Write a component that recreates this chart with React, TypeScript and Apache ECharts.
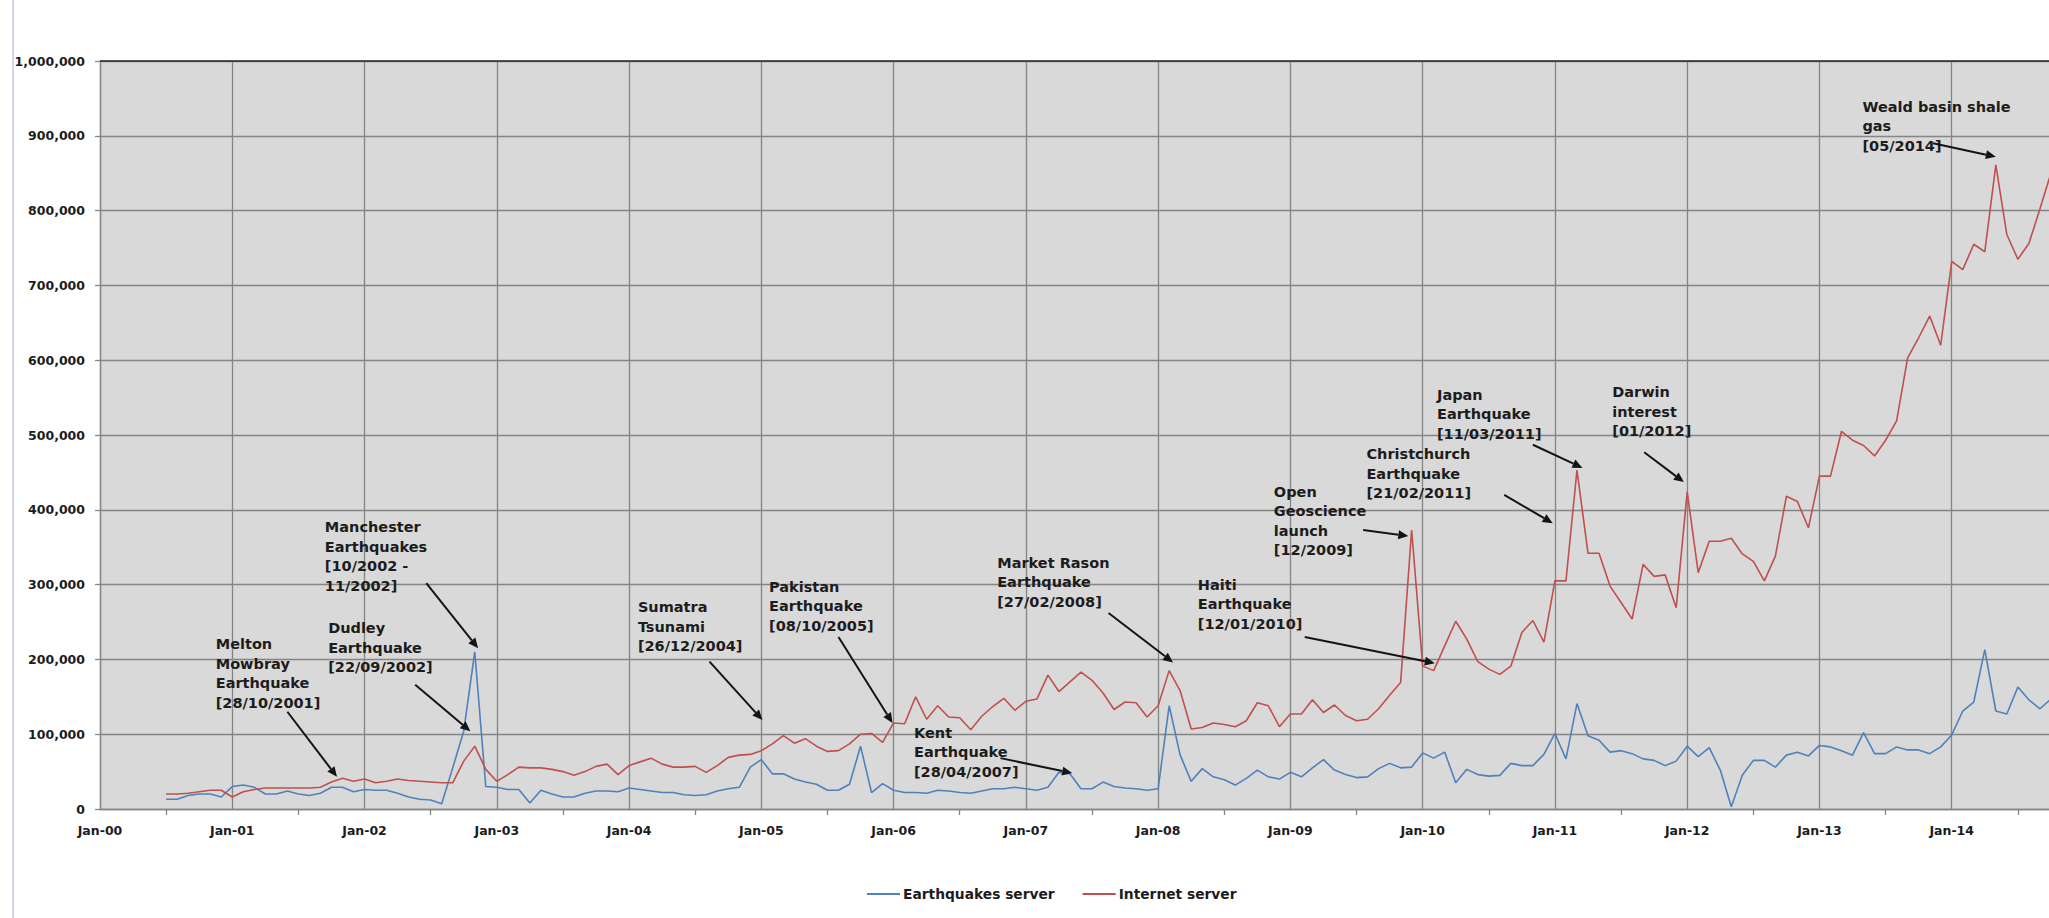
import React, { useEffect, useRef } from "react";
import * as echarts from "echarts";

// ---- categories: one per month, Jan-00 .. Jan-15 ----
const MONTH_NAMES = ["Jan", "Feb", "Mar", "Apr", "May", "Jun", "Jul", "Aug", "Sep", "Oct", "Nov", "Dec"];
const YEARS = [2000, 2001, 2002, 2003, 2004, 2005, 2006, 2007, 2008, 2009, 2010, 2011, 2012, 2013, 2014];
const AXIS_END = "Jan-15";
const CATEGORIES: string[] = [
  ...YEARS.flatMap((y) => MONTH_NAMES.map((m) => `${m}-${String(y % 100).padStart(2, "0")}`)),
  AXIS_END,
];

// both series start in Jul-00
const FIRST_MONTH = "Jul-00";

// monthly page requests, Jul-00 .. Oct-14
const EARTHQUAKES_SERVER = [
  13000, 13000, 18000, 20000, 20000, 16000,
  30000, 32000, 29000, 20000, 20000, 24000, 20000, 18000, 21000, 29000, 29000, 23000,
  26000, 25000, 25000, 21000, 16000, 13000, 12000, 7000, 55000, 104000, 210000, 30000,
  29000, 26000, 26000, 8000, 25000, 20000, 16000, 16000, 21000, 24000, 24000, 23000,
  28000, 26000, 24000, 22000, 22000, 19000, 18000, 19000, 24000, 27000, 29000, 56000,
  66000, 47000, 47000, 40000, 36000, 33000, 25000, 25000, 33000, 84000, 22000, 34000,
  25000, 22000, 22000, 21000, 25000, 24000, 22000, 21000, 24000, 27000, 27000, 29000,
  27000, 25000, 29000, 49000, 47000, 27000, 27000, 36000, 30000, 28000, 27000, 25000,
  27000, 138000, 72000, 37000, 54000, 43000, 39000, 32000, 41000, 52000, 43000, 40000,
  49000, 43000, 55000, 66000, 52000, 46000, 42000, 43000, 54000, 61000, 55000, 56000,
  75000, 68000, 76000, 35000, 53000, 46000, 44000, 45000, 61000, 58000, 58000, 73000,
  101000, 67000, 141000, 98000, 92000, 76000, 78000, 74000, 67000, 65000, 58000, 64000,
  84000, 70000, 82000, 52000, 3000, 45000, 65000, 65000, 56000, 72000, 76000, 71000,
  85000, 83000, 78000, 72000, 102000, 74000, 74000, 83000, 79000, 79000, 74000, 83000,
  99000, 131000, 143000, 213000, 131000, 127000, 163000, 146000, 134000, 147000,
];

const INTERNET_SERVER = [
  20000, 20000, 21000, 23000, 25000, 25000,
  16000, 23000, 26000, 28000, 28000, 28000, 28000, 28000, 29000, 36000, 41000, 37000,
  40000, 35000, 37000, 40000, 38000, 37000, 36000, 35000, 35000, 64000, 84000, 53000,
  37000, 46000, 56000, 55000, 55000, 53000, 50000, 45000, 50000, 57000, 60000, 46000,
  58000, 63000, 68000, 60000, 56000, 56000, 57000, 49000, 58000, 69000, 72000, 73000,
  78000, 87000, 98000, 88000, 94000, 84000, 77000, 78000, 87000, 100000, 101000, 89000,
  115000, 114000, 150000, 120000, 138000, 123000, 122000, 106000, 124000, 137000, 148000, 132000,
  144000, 147000, 179000, 157000, 170000, 183000, 172000, 155000, 133000, 143000, 142000, 123000,
  138000, 185000, 158000, 107000, 109000, 115000, 113000, 110000, 118000, 142000, 138000, 110000,
  127000, 127000, 146000, 129000, 139000, 125000, 118000, 120000, 134000, 152000, 169000, 373000,
  191000, 185000, 218000, 251000, 227000, 197000, 187000, 180000, 191000, 236000, 252000, 223000,
  305000, 305000, 453000, 342000, 342000, 298000, 276000, 254000, 327000, 311000, 313000, 269000,
  424000, 316000, 358000, 358000, 362000, 341000, 331000, 305000, 338000, 418000, 411000, 376000,
  445000, 445000, 505000, 493000, 486000, 472000, 493000, 519000, 603000, 630000, 659000, 620000,
  732000, 721000, 755000, 745000, 861000, 768000, 735000, 756000, 802000, 850000,
];

const SERIES_NAMES = ["Earthquakes server", "Internet server"];
const SERIES_COLORS = ["#4F81BD", "#C0504D"];

// event call-outs: text block top-left, arrow tail and arrow tip, as [month index, value]
type Note = { lines: string[]; at: [number, number]; from: [number, number]; to: [number, number] };
const NOTES: Note[] = [
  { lines: ["Melton", "Mowbray", "Earthquake", "[28/10/2001]"], at: [10.5, 233000], from: [17.0, 130000], to: [21.5, 43000] },
  { lines: ["Dudley", "Earthquake", "[22/09/2002]"], at: [20.7, 255000], from: [28.6, 166000], to: [33.6, 104000] },
  { lines: ["Manchester", "Earthquakes", "[10/2002 -", "11/2002]"], at: [20.4, 390000], from: [29.6, 302000], to: [34.3, 215000] },
  { lines: ["Sumatra", "Tsunami", "[26/12/2004]"], at: [48.8, 283000], from: [55.3, 197000], to: [60.1, 119000] },
  { lines: ["Pakistan", "Earthquake", "[08/10/2005]"], at: [60.7, 310000], from: [67.0, 230000], to: [71.9, 115000] },
  { lines: ["Kent", "Earthquake", "[28/04/2007]"], at: [73.85, 115000], from: [81.7, 68000], to: [88.2, 48000] },
  { lines: ["Market Rason", "Earthquake", "[27/02/2008]"], at: [81.4, 342000], from: [91.5, 262000], to: [97.35, 196000] },
  { lines: ["Haiti", "Earthquake", "[12/01/2010]"], at: [99.6, 313000], from: [109.3, 230000], to: [121.1, 195000] },
  { lines: ["Open", "Geoscience", "launch", "[12/2009]"], at: [106.5, 437000], from: [114.6, 373000], to: [118.7, 365000] },
  { lines: ["Christchurch", "Earthquake", "[21/02/2011]"], at: [114.9, 487000], from: [127.4, 420000], to: [131.8, 382000] },
  { lines: ["Japan", "Earthquake", "[11/03/2011]"], at: [121.3, 567000], from: [130.0, 487000], to: [134.5, 456000] },
  { lines: ["Darwin", "interest", "[01/2012]"], at: [137.2, 570000], from: [140.1, 477000], to: [143.7, 437000] },
  { lines: ["Weald basin shale", "gas", "[05/2014]"], at: [159.9, 952000], from: [166.3, 890000], to: [172.0, 872000] },
];

const FONT = "'DejaVu Sans', Verdana, sans-serif";
const GRID_COLOR = "#858585";
const TEXT_COLOR = "#1c1c1c";

// the page shows 2049 px; the plot runs on to Jan-15, past the right edge
const VIEW_W = 2049;
const VIEW_H = 918;
const CANVAS_W = 2110;

function padSeries(values: number[]): (number | null)[] {
  const start = CATEGORIES.indexOf(FIRST_MONTH);
  return [...new Array(start).fill(null), ...values];
}

export default function App() {
  const ref = useRef<HTMLDivElement>(null);

  useEffect(() => {
    if (!ref.current) return;
    const chart = echarts.init(ref.current, null, { renderer: "svg" });
    const last = CATEGORIES.length - 1;

    chart.setOption({
      animation: false,
      backgroundColor: "#ffffff",
      grid: {
        left: 100,
        top: 61,
        width: 1984,
        height: 748,
        show: true,
        backgroundColor: "#d9d9d9",
        borderWidth: 0,
      },
      legend: {
        data: SERIES_NAMES,
        left: 862,
        top: 882,
        icon: "rect",
        itemWidth: 33,
        itemHeight: 2,
        itemGap: 28,
        selectedMode: false,
        textStyle: { fontFamily: FONT, fontWeight: "bold", fontSize: 13.8, color: TEXT_COLOR, padding: [0, 0, 0, -2] },
      },
      xAxis: {
        type: "category",
        data: CATEGORIES,
        boundaryGap: false,
        axisLine: { show: true, lineStyle: { color: GRID_COLOR, width: 1.3 } },
        axisTick: {
          show: true,
          length: 6,
          interval: (i: number) => i % 12 === 6,
          lineStyle: { color: GRID_COLOR, width: 1.3 },
        },
        axisLabel: {
          interval: (i: number) => i % 12 === 0 && i < last,
          margin: 15,
          fontFamily: FONT,
          fontWeight: "bold",
          fontSize: 12.5,
          color: TEXT_COLOR,
        },
        splitLine: {
          show: true,
          interval: (i: number) => i % 12 === 0,
          lineStyle: { color: GRID_COLOR, width: 1.3 },
        },
      },
      yAxis: {
        type: "value",
        min: 0,
        max: 1000000,
        interval: 100000,
        axisLine: { show: true, lineStyle: { color: GRID_COLOR, width: 1.3 } },
        axisTick: { show: true, length: 5, lineStyle: { color: GRID_COLOR, width: 1.3 } },
        axisLabel: {
          margin: 15,
          fontFamily: FONT,
          fontWeight: "bold",
          fontSize: 12.5,
          color: TEXT_COLOR,
          formatter: (v: number) => v.toLocaleString("en-US"),
        },
        splitLine: { show: true, lineStyle: { color: GRID_COLOR, width: 1.3 } },
      },
      series: [
        {
          name: SERIES_NAMES[0],
          type: "line",
          data: padSeries(EARTHQUAKES_SERVER),
          symbol: "none",
          color: SERIES_COLORS[0],
          lineStyle: { color: SERIES_COLORS[0], width: 1.6 },
        },
        {
          name: SERIES_NAMES[1],
          type: "line",
          data: padSeries(INTERNET_SERVER),
          symbol: "none",
          color: SERIES_COLORS[1],
          lineStyle: { color: SERIES_COLORS[1], width: 1.6 },
        },
      ],
    });

    // map fractional month positions and values to pixels through the axes
    const x0 = chart.convertToPixel({ xAxisIndex: 0 }, 0) as number;
    const xN = chart.convertToPixel({ xAxisIndex: 0 }, last) as number;
    const px = (m: number) => x0 + ((xN - x0) * m) / last;
    const py = (v: number) => chart.convertToPixel({ yAxisIndex: 0 }, v) as number;

    const arrow = (a: [number, number], b: [number, number]) => {
      const x1 = px(a[0]), y1 = py(a[1]), x2 = px(b[0]), y2 = py(b[1]);
      const len = Math.hypot(x2 - x1, y2 - y1) || 1;
      const ux = (x2 - x1) / len, uy = (y2 - y1) / len;
      const head = 10, half = 4.5;
      const bx = x2 - ux * head, by = y2 - uy * head;
      return [
        { type: "line", z: 100, shape: { x1, y1, x2: bx, y2: by }, style: { stroke: "#141414", lineWidth: 2 } },
        {
          type: "polygon",
          z: 100,
          shape: { points: [[x2, y2], [bx - uy * half, by + ux * half], [bx + uy * half, by - ux * half]] },
          style: { fill: "#141414" },
        },
      ];
    };

    const topY = py(1000000);
    const graphic: any[] = [
      // outer chart frame edge on the left
      { type: "line", z: 100, shape: { x1: 13, y1: 0, x2: 13, y2: VIEW_H }, style: { stroke: "#c4ccd8", lineWidth: 1.5 } },
      // plot area top border
      { type: "line", z: 100, shape: { x1: x0, y1: topY, x2: xN, y2: topY }, style: { stroke: "#262626", lineWidth: 1.6 } },
    ];
    NOTES.forEach((n) => {
      graphic.push({
        type: "text",
        z: 100,
        x: px(n.at[0]),
        y: py(n.at[1]),
        style: {
          text: n.lines.join("\n"),
          fill: TEXT_COLOR,
          fontFamily: FONT,
          fontWeight: "bold",
          fontSize: 14.5,
          lineHeight: 19.5,
          align: "left",
          verticalAlign: "top",
        },
      });
      graphic.push(...arrow(n.from, n.to));
    });
    chart.setOption({ graphic });

    return () => chart.dispose();
  }, []);

  return (
    <div style={{ position: "absolute", left: 0, top: 0, width: VIEW_W, height: VIEW_H, overflow: "hidden", background: "#fff" }}>
      <div ref={ref} style={{ width: CANVAS_W, height: VIEW_H }} />
    </div>
  );
}
